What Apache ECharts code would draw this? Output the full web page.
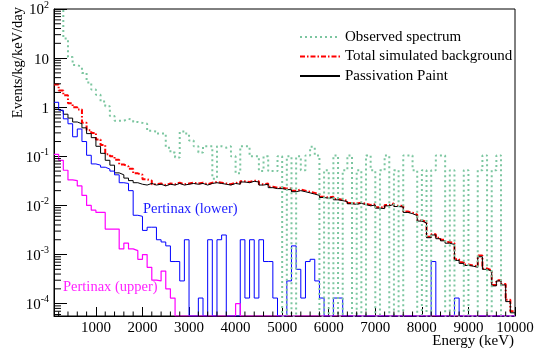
<!DOCTYPE html>
<html><head><meta charset="utf-8">
<script src="https://cdn.jsdelivr.net/npm/echarts/dist/echarts.min.js"></script>
<style>html,body{margin:0;padding:0;background:#fff}#c{width:537px;height:353px}</style>
</head><body><div id="c"></div>
<script>
// Histogram bins: 100 keV wide, from 100 keV to 10000 keV (99 bins)
const binStart = 100;
const binStep = 100;

const observed = [200,150,25,10.5,7.2,6.6,5,3.2,2.3,1.8,1.3,1.05,0.66,0.53,0.53,0.58,0.55,0.5,0.48,0.46,
0.33,0.32,0.29,0.29,0.15,0.12,0.095,0.32,0.29,0.21,0.16,0.12,0.16,0.16,
0.035,0.16,0.15,0.16,0.1,0.045,0.16,0.16,0.1,0.1,0.05,0.1,0.05,0.05,0.1,
0,0.1,0,0.1,0.052,0.104,0.156,0.104,0,0.052,0,0.104,0,0.052,0.104,0,0.052,0,0.104,0.052,
0,0.052,0.104,0,0.052,0,0.104,0.104,0.052,0,0.052,0,0.052,0.104,0.104,0,0.052,0,0,0.052,
0,0,0.052,0.104,0,0.052,0.104,0,0,0];

const totalSim = [2.9,2.2,1.75,1.2,1.0,0.9,0.48,0.34,0.3,0.22,0.17,0.11,0.1,0.085,0.068,0.062,0.056,0.045,0.042,0.034,0.032,
0.027,0.028,0.026,0.028,0.027,0.029,0.027,0.028,0.029,0.028,0.029,0.027,0.029,0.03,0.029,0.028,0.027,0.029,0.028,
0.031,0.03,0.032,0.031,0.027,0.028,0.024,0.023,0.023,0.022,0.022,0.02,0.021,0.02,0.019,0.018,0.017,0.015,0.0145,0.015,
0.0135,0.013,0.0125,0.0112,0.011,0.0114,0.0108,0.0102,0.0106,0.0092,0.009,0.0102,0.011,0.0099,0.0097,0.0075,0.0071,0.0065,
0.005,0.0046,0.0023,0.0026,0.0022,0.002,0.0018,0.0017,0.0008,0.0007,0.00063,0.0006,0.00057,0.00095,0.00052,0.00048,
0.00024,0.0003,0.00025,0.00012,0.00007];

const paint = [0.91,0.83,0.72,0.6,0.5,0.46,0.38,0.29,0.24,0.16,0.115,0.083,0.066,0.046,0.042,0.036,0.032,0.029,
0.027,0.026,0.028,0.026,0.027,0.025,0.027,0.026,0.028,0.026,0.027,0.028,0.027,0.028,0.026,0.028,0.029,0.028,0.027,0.026,0.028,0.027,
0.03,0.029,0.031,0.03,0.026,0.027,0.023,0.022,0.022,0.021,0.021,0.019,0.02,0.019,0.018,0.017,0.016,0.0145,0.014,0.0145,
0.013,0.0125,0.012,0.0108,0.0105,0.011,0.0104,0.0098,0.0102,0.0088,0.0086,0.0098,0.0105,0.0095,0.0093,0.0072,0.0068,0.0062,
0.0048,0.0044,0.0022,0.0025,0.0021,0.0019,0.0017,0.0016,0.00076,0.00066,0.0006,0.00058,0.00055,0.0009,0.0005,0.00046,
0.00023,0.00029,0.00024,0.00011,0.000065];

const pertinaxLower = [1.26,0.87,0.58,0.46,0.25,0.36,0.2,0.105,0.07,0.066,0.06,0.055,0.05,0.042,0.029,0.028,0.02,0.0063,0.006,0.0031,
0.0036,0.0036,0.002,0.0018,0.0015,0.00072,0.00072,0.00029,0.002,0,0,0.00013,0,0.002,0,0.002,0.0025,0,0,0,
0.002,0.00013,0.002,0.00013,0.002,0.00072,0.00072,0.00013,0,0,0.00029,0.0015,0.0005,0.00013,0.00072,0.0008,0.00029,0.00013,0,0,
0.00013,0.00013,0,0,0,0,0,0,0,0,0,0,0,0,0,0,0,0,0,0,
0,0.00072,0,0,0,0,0.00013,0,0,0,0,0,0,0,0,0,0,0,0];

const pertinaxUpper = [0.11,0.083,0.052,0.033,0.032,0.025,0.016,0.01,0.008,0.0072,0.0072,0.0033,0.0033,0.0033,0.0013,0.0017,0.0013,0.0012,0.0008,0.001,
0.00055,0.0003,0.00029,0.00046,0.0002,0.00013,0,0,0,0,0,0,0,0,0,0,0,0,0,0.0001,
0,0,0,0,0,0,0,0,0,0,0,0,0,0,0,0,0,0,0,0,
0,0,0,0,0,0,0,0,0,0,0,0,0,0,0,0,0,0,0,0,
0,0,0,0,0,0,0,0,0,0,0,0,0,0,0,0,0,0,0];

// axis decoration
const yMin = 5.6e-5, yMax = 100;
const xMin = 100, xMax = 10000;
const yDecades = [-5,-4,-3,-2,-1,0,1];
const yMantissas = [2,3,4,5,6,7,8,9];
const xMinorTicks = [200,400,600,800,1200,1400,1600,1800,2200,2400,2600,2800,3200,3400,3600,3800,4200,4400,4600,4800,
5200,5400,5600,5800,6200,6400,6600,6800,7200,7400,7600,7800,8200,8400,8600,8800,9200,9400,9600,9800];

const F = "'Liberation Serif', 'Times New Roman', serif";

// empty bins are drawn on the lower frame edge, as ROOT does on a log axis
function hist(vals) {
  const d = vals.map((v, i) => [binStart + i * binStep, v > 0 ? v : yMin]);
  const last = vals[vals.length - 1];
  d.push([binStart + vals.length * binStep, last > 0 ? last : yMin]);
  return d;
}

const yMinor = [];
yDecades.forEach(k => yMantissas.forEach(m => { const v = m * Math.pow(10, k); if (v > yMin && v < yMax) yMinor.push([xMin, v]); }));

const chart = echarts.init(document.getElementById('c'), null, {renderer: 'canvas'});
const lineBase = {type: 'line', step: 'end', symbol: 'none', showSymbol: false, clip: true, animation: false, silent: true};

chart.setOption({
  animation: false,
  backgroundColor: '#fff',
  grid: {left: 54, right: 22, top: 3, bottom: 37, show: true, borderColor: '#000', borderWidth: 1, backgroundColor: 'transparent'},
  legend: {
    data: ['Observed spectrum', 'Total simulated background', 'Passivation Paint'],
    orient: 'vertical', left: 294, top: 24.5, itemWidth: 40, itemHeight: 12, itemGap: 4.5,
    itemStyle: {opacity: 0, borderWidth: 0},
    textStyle: {fontFamily: F, fontSize: 15, color: '#000'}, selectedMode: false
  },
  xAxis: {
    type: 'value', min: xMin, max: xMax, splitNumber: 10,
    axisLine: {show: true, lineStyle: {color: '#000', width: 1}},
    axisTick: {show: true, inside: true, length: 9, lineStyle: {color: '#000'}},
    axisLabel: {showMinLabel: false, margin: 5, fontFamily: F, fontSize: 15, color: '#000',
      formatter: function (v) { return String(Math.round(v)); }},
    splitLine: {show: false}
  },
  yAxis: {
    type: 'log', logBase: 10, min: yMin, max: yMax,
    axisLine: {show: true, lineStyle: {color: '#000', width: 1}},
    axisTick: {show: true, inside: true, length: 13, lineStyle: {color: '#000'}},
    splitLine: {show: false},
    axisLabel: {
      showMinLabel: false, margin: 5, color: '#000',
      formatter: function (v) {
        const e = Math.round(Math.log10(v));
        if (e === 0) return '{b|1}';
        if (e === 1) return '{b|10}';
        return '{b|10}{s|' + e + '}';
      },
      rich: {
        b: {fontFamily: F, fontSize: 15, color: '#000', lineHeight: 18, verticalAlign: 'bottom'},
        s: {fontFamily: F, fontSize: 10, color: '#000', lineHeight: 18, verticalAlign: 'top', padding: [0, 0, 6, 0]}
      }
    }
  },
  graphic: [
    {type: 'text', x: 18, y: 7, rotation: Math.PI / 2, style: {text: 'Events/kg/keV/day', fontFamily: F, fontSize: 14.5, fill: '#000', align: 'right', verticalAlign: 'middle'}},
    {type: 'text', x: 514, y: 341, style: {text: 'Energy (keV)', fontFamily: F, fontSize: 15, fill: '#000', align: 'right', verticalAlign: 'middle'}},
    {type: 'text', x: 143, y: 209.5, style: {text: 'Pertinax (lower)', fontFamily: F, fontSize: 14.5, fill: '#1a1aff', align: 'left', verticalAlign: 'middle'}, z: 100},
    {type: 'text', x: 63, y: 287, style: {text: 'Pertinax (upper)', fontFamily: F, fontSize: 14.5, fill: '#ff22ff', align: 'left', verticalAlign: 'middle'}, z: 100}
  ],
  series: [
    Object.assign({}, lineBase, {name: 'Total simulated background', data: hist(totalSim), z: 2,
      lineStyle: {color: '#ff0000', width: 2, type: [5, 2, 1.5, 2]}, itemStyle: {color: '#ff0000'}}),
    Object.assign({}, lineBase, {name: 'Passivation Paint', data: hist(paint), z: 3,
      lineStyle: {color: '#000000', width: 1}, itemStyle: {color: '#000000'}}),
    Object.assign({}, lineBase, {name: 'Pertinax (lower)', data: hist(pertinaxLower), z: 3,
      lineStyle: {color: '#0000ff', width: 1}, itemStyle: {color: '#0000ff'}}),
    Object.assign({}, lineBase, {name: 'Observed spectrum', data: hist(observed), z: 4,
      lineStyle: {color: '#7cc6a0', width: 2, type: [2, 3]}, itemStyle: {color: '#7cc6a0'}}),
    Object.assign({}, lineBase, {name: 'Pertinax (upper)', data: hist(pertinaxUpper), z: 5,
      lineStyle: {color: '#ff00ff', width: 1.2}, itemStyle: {color: '#ff00ff'}}),
    {type: 'custom', name: 'yminor', coordinateSystem: 'cartesian2d', silent: true, z: 10, clip: false, data: yMinor,
      renderItem: function (params, api) {
        const p = api.coord([api.value(0), api.value(1)]);
        return {type: 'line', shape: {x1: p[0], y1: p[1], x2: p[0] + 7, y2: p[1]}, style: {stroke: '#000', lineWidth: 1}};
      }},
    {type: 'custom', name: 'xminor', coordinateSystem: 'cartesian2d', silent: true, z: 10, clip: false,
      data: xMinorTicks.map(v => [v, yMin]),
      renderItem: function (params, api) {
        const p = api.coord([api.value(0), api.value(1)]);
        return {type: 'line', shape: {x1: p[0], y1: p[1], x2: p[0], y2: p[1] - 4.5}, style: {stroke: '#000', lineWidth: 1}};
      }}
  ]
});
</script>
</body></html>
